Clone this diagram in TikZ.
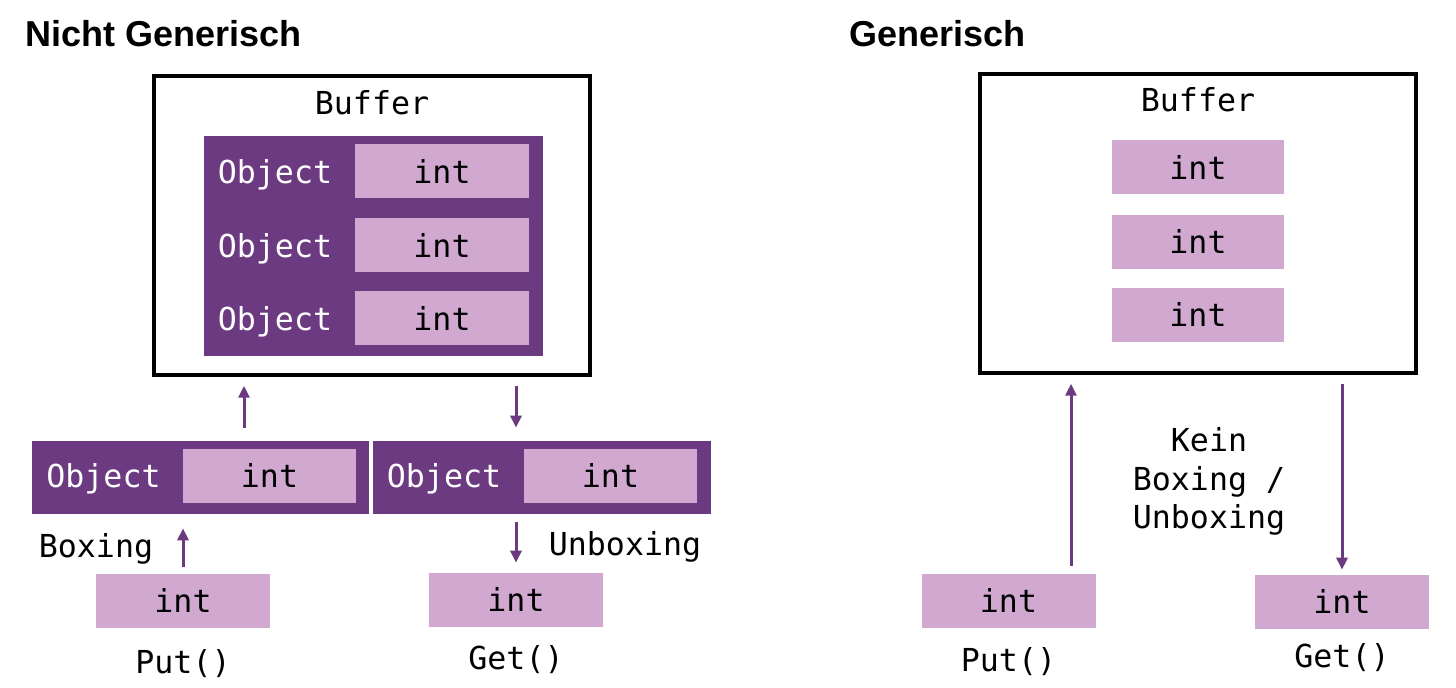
\documentclass[tikz,border=0pt]{standalone}
\usepackage{fontspec}
\setmainfont{Liberation Sans}
\setmonofont{DejaVu Sans Mono}
\usetikzlibrary{positioning,arrows.meta}
\newdimen\pxu \pxu=0.02cm
\definecolor{boxdark}{HTML}{6B3A80}
\definecolor{boxlight}{HTML}{D0A8D0}
\tikzset{
  codefont/.style={font=\ttfamily\fontsize{18}{22.1}\selectfont},
  bufbox/.style={draw=black, line width=0.07cm, inner sep=0pt,
    minimum width=436\pxu, minimum height=299\pxu},
  objbox/.style={fill=boxdark, inner sep=0pt},
  intbox/.style={fill=boxlight, codefont, text=black, inner sep=0pt,
    text height=13.5pt, text depth=0pt, minimum width=174\pxu, minimum height=54\pxu},
  objlabel/.style={codefont, text=white, inner sep=0pt, text height=13.5pt, text depth=0pt},
  plainlabel/.style={codefont, text=black, inner sep=0pt, text height=13.5pt, text depth=0pt},
  flow/.style={draw=boxdark, line width=0.06cm, -{Triangle[length=0.24cm, width=0.22cm]}},
  titlelabel/.style={font=\bfseries\fontsize{20.5}{24}\selectfont, anchor=base west, inner sep=0pt},
}

\begin{document}
\begin{tikzpicture}[x=0.02cm, y=-0.02cm]
  \useasboundingbox (0,0) rectangle (1456,688);

  % left half: nicht generisch
  \node[titlelabel] (ltitle) at (25,47) {Nicht Generisch};
  \node[bufbox] (lbuf) at (372,225.5) {};
  \node[plainlabel] (lbuftext) at (372,102.5) {Buffer};
  \node[objbox, minimum width=339\pxu, minimum height=220\pxu] (lrows) at (373.5,246) {};
  \foreach \y/\n in {171.5/1, 245.5/2, 318.5/3} {
    \node[intbox] (lint\n) at (442,\y) {int};
    \node[objlabel] (lobjtext\n) at (275,\y) {Object};
  }

  \node[objbox, minimum width=337\pxu, minimum height=73\pxu] (lobj) at (200.5,477.5) {};
  \node[intbox, minimum width=173\pxu] (lobjint) at (269.5,476) {int};
  \node[objlabel] (lobjtext) at (103.5,476) {Object};
  \node[objbox, minimum width=338\pxu, minimum height=73\pxu] (robj) at (542,477.5) {};
  \node[intbox, minimum width=173\pxu] (robjint) at (610.5,476) {int};
  \node[objlabel] (robjtext) at (444,476) {Object};

  \node[intbox] (lput) at (183,600.5) {int};
  \node[plainlabel] (lputtext) at (183,662) {Put()};
  \node[plainlabel] (boxing) at (96,546) {Boxing};
  \node[intbox] (lget) at (516,600) {int};
  \node[plainlabel] (lgettext) at (516,658) {Get()};
  \node[plainlabel] (unboxing) at (625,544) {Unboxing};

  \coordinate (lup) at (244,0);
  \draw[flow, shorten <=0.26cm, shorten >=0.18cm] (lobj.north -| lup) -- (lbuf.south -| lup);
  \draw[flow, shorten <=0.18cm, shorten >=0.26cm] (lbuf.south -| lget) -- (robj.north -| lget);
  \draw[flow, shorten <=0.12cm, shorten >=0.28cm] (lput) -- (lobj.south -| lput);
  \draw[flow, shorten <=0.16cm, shorten >=0.2cm] (robj.south -| lget) -- (lget);

  % right half: generisch
  \node[titlelabel] (rtitle) at (849,47) {Generisch};
  \node[bufbox] (rbuf) at (1198,223.5) {};
  \node[plainlabel] (rbuftext) at (1198,99.5) {Buffer};
  \foreach \y/\n in {167.5/1, 242/2, 315/3}
    \node[intbox, minimum width=172\pxu] (rint\n) at (1198,\y) {int};

  \node[intbox] (rput) at (1008.5,601) {int};
  \node[plainlabel] (rputtext) at (1008.5,660) {Put()};
  \node[intbox] (rget) at (1342,602) {int};
  \node[plainlabel] (rgettext) at (1342,656) {Get()};
  \node[codefont, align=center, anchor=base, inner sep=0pt] (nobox) at (1209,529)
    {Kein\\Boxing /\\Unboxing};

  \coordinate (rup) at (1071,0);
  \draw[flow, shorten <=0.16cm, shorten >=0.18cm] (rput.north -| rup) -- (rbuf.south -| rup);
  \draw[flow, shorten <=0.18cm, shorten >=0.1cm] (rbuf.south -| rget) -- (rget);
\end{tikzpicture}
\end{document}
